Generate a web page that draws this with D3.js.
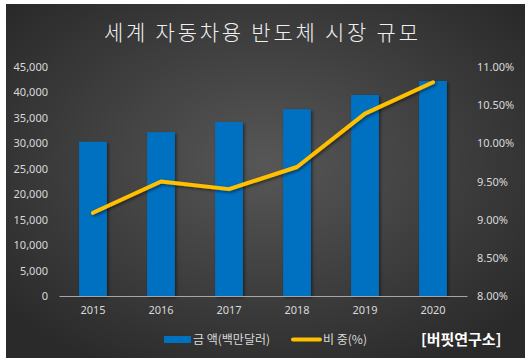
<!DOCTYPE html>
<html>
<head>
<meta charset="utf-8">
<script src="https://cdn.jsdelivr.net/npm/d3@7"></script>
<style>
  body { margin: 0; background: #fff; }
  svg { display: block; }
</style>
</head>
<body>
<div id="chart"></div>
<script>
// data
const years = ['2015', '2016', '2017', '2018', '2019', '2020'];
const amounts = [30300, 32200, 34200, 36700, 39500, 42250]; // 금액(백만달러)
const shares = [9.09, 9.50, 9.40, 9.69, 10.39, 10.80]; // 비중(%)
const leftTicks = [0, 5000, 10000, 15000, 20000, 25000, 30000, 35000, 40000, 45000];
const rightTicks = [8, 8.5, 9, 9.5, 10, 10.5, 11];

const W = 525;
const H = 361;
const plot = { left: 59, right: 467, top: 67, bottom: 296 };

const svg = d3.select('#chart').append('svg')
  .attr('width', W)
  .attr('height', H);

const defs = svg.append('defs');
const grad = defs.append('radialGradient')
  .attr('id', 'bg')
  .attr('cx', '50%').attr('cy', '45%').attr('r', '65%');
grad.append('stop').attr('offset', '0%').attr('stop-color', '#575757');
grad.append('stop').attr('offset', '100%').attr('stop-color', '#2a2a2a');

const shadow = defs.append('filter').attr('id', 'shadow')
  .attr('x', '-20%').attr('y', '-20%').attr('width', '140%').attr('height', '140%');
shadow.append('feDropShadow')
  .attr('dx', 1.5).attr('dy', 1.5).attr('stdDeviation', 1.5)
  .attr('flood-color', '#000').attr('flood-opacity', 0.5);

// frame
svg.append('rect')
  .attr('x', 6).attr('y', 4)
  .attr('width', W - 6).attr('height', 354)
  .attr('fill', 'url(#bg)');

// title
svg.append('text')
  .attr('x', 104).attr('y', 40)
  .attr('textLength', 314)
  .attr('lengthAdjust', 'spacing')
  .attr('fill', '#f0f0f0')
  .style('font-family', '"Noto Sans CJK KR", sans-serif')
  .style('font-size', '21px')
  .style('font-weight', 300)
  .text('세계 자동차용 반도체 시장 규모');

// scales
const xScale = d3.scaleBand().domain(years).range([plot.left, plot.right]).paddingInner(0.59).paddingOuter(0.295);
const yLeft = d3.scaleLinear().domain([0, 45000]).range([plot.bottom, plot.top]);
const yRight = d3.scaleLinear().domain([8, 11]).range([plot.bottom, plot.top]);

const tickFont = '"Noto Sans", "DejaVu Sans", sans-serif';

// bars
svg.append('g')
  .selectAll('rect')
  .data(amounts)
  .join('rect')
  .attr('x', (d, i) => xScale(years[i]))
  .attr('y', d => yLeft(d))
  .attr('width', xScale.bandwidth())
  .attr('height', d => plot.bottom - yLeft(d))
  .attr('fill', '#0070c0')
  .attr('filter', 'url(#shadow)');

// x axis
const xAxis = svg.append('g')
  .attr('transform', `translate(0,${plot.bottom})`)
  .call(d3.axisBottom(xScale).tickSize(0).tickPadding(10));
xAxis.select('.domain').attr('stroke', '#a6a6a6').attr('stroke-width', 1);
xAxis.selectAll('text')
  .attr('fill', '#d9d9d9')
  .style('font-family', tickFont)
  .style('font-size', '11px');

// left axis
const yAxisL = svg.append('g')
  .attr('transform', 'translate(48,0)')
  .call(d3.axisLeft(yLeft).tickValues(leftTicks).tickSize(0).tickPadding(0).tickFormat(d3.format(',')));
yAxisL.select('.domain').remove();
yAxisL.selectAll('text')
  .attr('fill', '#d9d9d9')
  .style('font-family', tickFont)
  .style('font-size', '11px');

// right axis
const yAxisR = svg.append('g')
  .attr('transform', 'translate(477,0)')
  .call(d3.axisRight(yRight).tickValues(rightTicks).tickSize(0).tickPadding(0).tickFormat(d => d.toFixed(2) + '%'));
yAxisR.select('.domain').remove();
yAxisR.selectAll('text')
  .attr('fill', '#d9d9d9')
  .style('font-family', tickFont)
  .style('font-size', '11px');

// line
const line = d3.line()
  .x((d, i) => xScale(years[i]) + xScale.bandwidth() / 2)
  .y(d => yRight(d));

svg.append('path')
  .datum(shares)
  .attr('d', line)
  .attr('fill', 'none')
  .attr('stroke', '#ffc000')
  .attr('stroke-width', 4)
  .attr('stroke-linejoin', 'round')
  .attr('stroke-linecap', 'round')
  .attr('filter', 'url(#shadow)');

// legend
const legend = svg.append('g')
  .style('font-family', '"Noto Sans CJK KR", sans-serif')
  .style('font-size', '12px');
legend.append('rect')
  .attr('x', 164).attr('y', 336)
  .attr('width', 27).attr('height', 7)
  .attr('fill', '#0070c0');
legend.append('text')
  .attr('x', 193).attr('y', 344)
  .attr('fill', '#d9d9d9')
  .text('금 액(백만달러)');
legend.append('line')
  .attr('x1', 293).attr('x2', 320)
  .attr('y1', 339.5).attr('y2', 339.5)
  .attr('stroke', '#ffc000')
  .attr('stroke-width', 4)
  .attr('stroke-linecap', 'round');
legend.append('text')
  .attr('x', 323).attr('y', 344)
  .attr('fill', '#d9d9d9')
  .text('비 중(%)');

// source tag
svg.append('text')
  .attr('x', 421).attr('y', 345)
  .attr('fill', '#ffffff')
  .style('font-family', '"Noto Sans CJK KR", sans-serif')
  .style('font-size', '15px')
  .style('font-weight', 'bold')
  .text('[버핏연구소]');
</script>
</body>
</html>
